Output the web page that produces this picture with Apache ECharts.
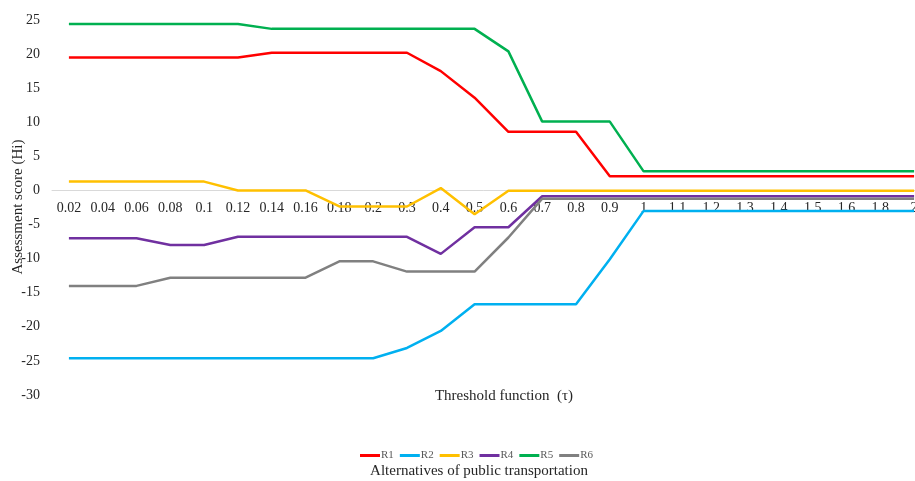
<!DOCTYPE html>
<html>
<head>
<meta charset="utf-8">
<script src="https://cdn.jsdelivr.net/npm/echarts@6/dist/echarts.min.js"></script>
<style>
html,body{margin:0;padding:0;background:#fff;}
#chart{width:915px;height:481px;}
</style>
</head>
<body>
<div id="chart"></div>
<script>
var categories = ['0.02','0.04','0.06','0.08','0.1','0.12','0.14','0.16','0.18','0.2','0.3','0.4','0.5','0.6','0.7','0.8','0.9','1','1.1','1.2','1.3','1.4','1.5','1.6','1.8','2'];
var R1 = [19.5,19.5,19.5,19.5,19.5,19.5,20.2,20.2,20.2,20.2,20.2,17.5,13.6,8.6,8.6,8.6,2.1,2.1,2.1,2.1,2.1,2.1,2.1,2.1,2.1,2.1];
var R2 = [-24.6,-24.6,-24.6,-24.6,-24.6,-24.6,-24.6,-24.6,-24.6,-24.6,-23.1,-20.6,-16.7,-16.7,-16.7,-16.7,-10.1,-3.0,-3.0,-3.0,-3.0,-3.0,-3.0,-3.0,-3.0,-3.0];
var R3 = [1.3,1.3,1.3,1.3,1.3,0,0,0,-2.35,-2.35,-2.35,0.35,-3.5,-0.05,-0.05,-0.05,-0.05,-0.05,-0.05,-0.05,-0.05,-0.05,-0.05,-0.05,-0.05,-0.05];
var R4 = [-7.0,-7.0,-7.0,-8.0,-8.0,-6.8,-6.8,-6.8,-6.8,-6.8,-6.8,-9.3,-5.4,-5.4,-0.85,-0.85,-0.85,-0.85,-0.85,-0.85,-0.85,-0.85,-0.85,-0.85,-0.85,-0.85];
var R5 = [24.4,24.4,24.4,24.4,24.4,24.4,23.7,23.7,23.7,23.7,23.7,23.7,23.7,20.4,10.1,10.1,10.1,2.8,2.8,2.8,2.8,2.8,2.8,2.8,2.8,2.8];
var R6 = [-14.0,-14.0,-14.0,-12.8,-12.8,-12.8,-12.8,-12.8,-10.4,-10.4,-11.9,-11.9,-11.9,-6.9,-1.2,-1.2,-1.2,-1.2,-1.2,-1.2,-1.2,-1.2,-1.2,-1.2,-1.2,-1.2];
var seriesNames = ['R1','R2','R3','R4','R5','R6'];
var seriesData = [R1,R2,R3,R4,R5,R6];
var colors = ['#FF0000','#00B0F0','#FFC000','#7030A0','#00B050','#808080'];
var yTicks = {min:-30,max:25,interval:5};

var FONT = '"Liberation Serif", "DejaVu Serif", serif';
var GRID = {left:52, top:20, width:879, height:375};
// distance from bottom of grid to the zero line, derived from the y scale
var zeroOffset = GRID.height * (0 - yTicks.min) / (yTicks.max - yTicks.min);

var chart = echarts.init(document.getElementById('chart'));
var option = {
  animation:false,
  color: colors,
  grid:{left:GRID.left, top:GRID.top, width:GRID.width, height:GRID.height, containLabel:false, outerBoundsMode:'none'},
  xAxis:{
    type:'category',
    data:categories,
    boundaryGap:true,
    position:'bottom',
    offset:-zeroOffset,
    axisLine:{onZero:false, lineStyle:{color:'#D9D9D9', width:1}},
    axisTick:{show:false},
    axisLabel:{interval:0, margin:11, color:'#262626', fontFamily:FONT, fontSize:14},
    splitLine:{show:false}
  },
  yAxis:{
    type:'value',
    min:yTicks.min, max:yTicks.max, interval:yTicks.interval,
    axisLine:{show:false},
    axisTick:{show:false},
    splitLine:{show:false},
    axisLabel:{margin:12, color:'#262626', fontFamily:FONT, fontSize:14}
  },
  legend:{
    data:seriesNames,
    left:355, top:445,
    icon:'rect',
    itemWidth:20, itemHeight:3,
    itemGap:6,
    textStyle:{fontFamily:FONT, fontSize:11, color:'#595959', padding:[0,0,0,-4]}
  },
  graphic:[
    {type:'text', x:18, y:207, rotation:Math.PI/2,
     style:{text:'Assessment score (Hi)', font:'15px '+FONT, fill:'#262626', align:'center', verticalAlign:'middle'}},
    {type:'text', x:504, y:396,
     style:{text:'Threshold function  (τ)', font:'15px '+FONT, fill:'#262626', align:'center', verticalAlign:'middle'}},
    {type:'text', x:479, y:471,
     style:{text:'Alternatives of public transportation', font:'15px '+FONT, fill:'#262626', align:'center', verticalAlign:'middle'}}
  ],
  series: seriesNames.map(function(n,i){
    return {name:n, type:'line', data:seriesData[i], symbol:'none', smooth:false,
      lineStyle:{width:2.5, color:colors[i]}, itemStyle:{color:colors[i]}};
  })
};
chart.setOption(option);
</script>
</body>
</html>
